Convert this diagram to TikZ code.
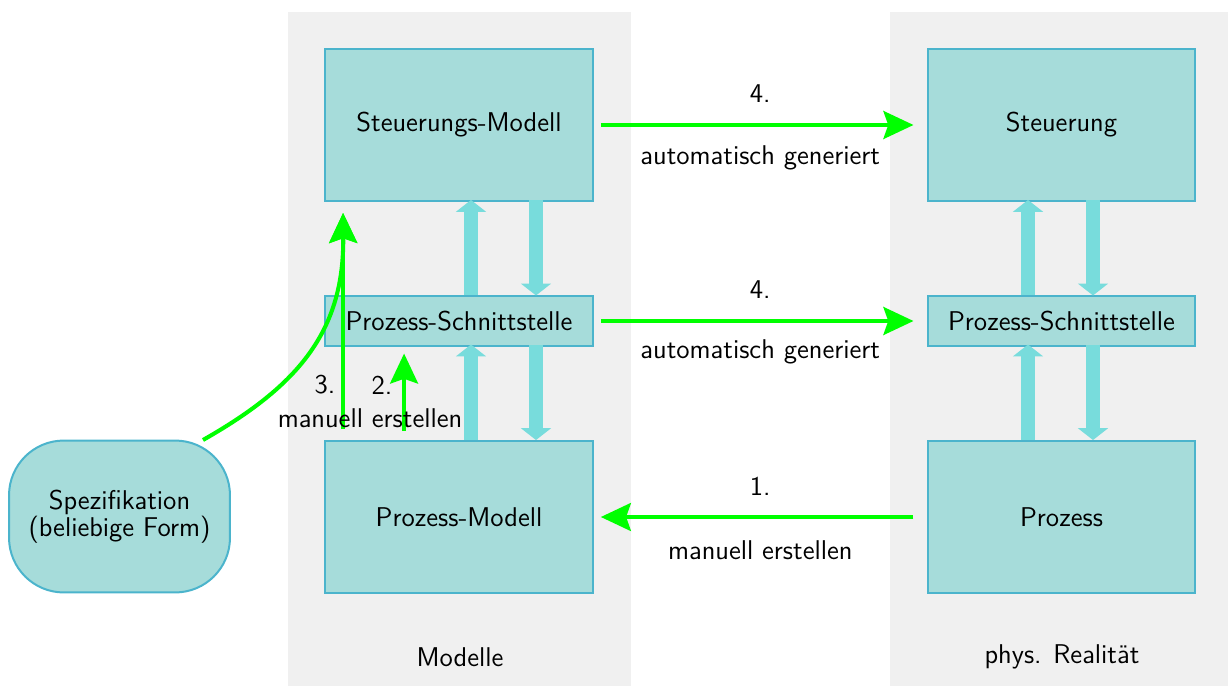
\documentclass[tikz,border=0pt]{standalone}
\usetikzlibrary{arrows.meta,calc}
\definecolor{panel}{HTML}{F0F0F0}
\definecolor{boxfill}{HTML}{A6DCDA}
\definecolor{boxline}{HTML}{4BB4CC}
\definecolor{flow}{HTML}{78DCDC}
\definecolor{green}{HTML}{00FF00}
\newcommand{\labelfont}{\sffamily\fontsize{11.4}{13.7}\selectfont}
\tikzset{
  block/.style={draw=boxline, fill=boxfill, line width=0.84pt, inner sep=0pt,
    minimum width=112.5pt, minimum height=63.8pt, font=\labelfont},
  iface/.style={block, minimum height=20.6pt},
  spec/.style={block, minimum width=92.8pt, rounded corners=23pt, align=center},
  flowarrow/.style={draw=flow, line width=5.5pt, -{Triangle[length=5pt,width=12.5pt]}},
  genarrow/.style={draw=green, line width=1.7pt, -{Stealth[length=12.6pt,width=11.7pt,inset=2pt]}},
  lbl/.style={font=\labelfont, inner sep=1pt},
}
\begin{document}
\begin{tikzpicture}[x=0.42pt, y=-0.42pt]
  \useasboundingbox (0,0) rectangle (1228,686);
  % two columns
  \fill[panel] (288,12) rectangle (631,686);
  \fill[panel] (890,12) rectangle (1228,686);
  \node[lbl] (lm) at (460,657) {Modelle};
  \node[lbl] (lr) at (1062,657) {phys. Realität};

  % model side
  \node[block] (sm) at (459,125) {Steuerungs-Modell};
  \node[iface] (ps1) at (459,321) {Prozess-Schnittstelle};
  \node[block] (pm) at (459,517) {Prozess-Modell};
  % real side
  \node[block] (st) at (1061.5,125) {Steuerung};
  \node[iface] (ps2) at (1061.5,321) {Prozess-Schnittstelle};
  \node[block] (pr) at (1061.5,517) {Prozess};
  % specification
  \node[spec] (sp) at (119.5,516.5) {Spezifikation\\[-2.5pt](beliebige Form)};

  % signal flow between levels
  \draw[flowarrow] ($(ps1.north)+(12,0)$) -- ($(sm.south)+(12,-2)$);
  \draw[flowarrow] ($(sm.south)+(77,-2)$) -- ($(ps1.north)+(77,0)$);
  \draw[flowarrow] ($(pm.north)+(12,0)$) -- ($(ps1.south)+(12,-2)$);
  \draw[flowarrow] ($(ps1.south)+(77,-2)$) -- ($(pm.north)+(77,0)$);
  \draw[flowarrow] ($(ps2.north)+(-33.5,0)$) -- ($(st.south)+(-33.5,-2)$);
  \draw[flowarrow] ($(st.south)+(31.5,-2)$) -- ($(ps2.north)+(31.5,0)$);
  \draw[flowarrow] ($(pr.north)+(-33.5,0)$) -- ($(ps2.south)+(-33.5,-2)$);
  \draw[flowarrow] ($(ps2.south)+(31.5,-2)$) -- ($(pr.north)+(31.5,0)$);

  % generation steps
  \draw[genarrow, shorten <=2.9pt, shorten >=5.5pt] (sm.east) -- (st.west)
    node[lbl, midway, yshift=13pt] (l4a) {4.}
    node[lbl, midway, yshift=-14pt] (l4b) {automatisch generiert};
  \draw[genarrow, shorten <=2.9pt, shorten >=5.5pt] (ps1.east) -- (ps2.west)
    node[lbl, midway, yshift=13pt] (l4c) {4.}
    node[lbl, midway, yshift=-13pt] (l4d) {automatisch generiert};
  \draw[genarrow, shorten <=5.5pt, shorten >=2.9pt] (pr.west) -- (pm.east)
    node[lbl, midway, yshift=13pt] (l1a) {1.}
    node[lbl, midway, yshift=-14pt] (l1b) {manuell erstellen};

  % manual steps on the model side
  \coordinate (tgt) at ($(sm.south west)+(19,11)$);
  \coordinate (s3) at ($(pm.north west)+(19,-11)$);
  \coordinate (s2) at ($(pm.north west)+(80,-9)$);
  \coordinate (t2) at ($(ps1.south west)+(80,7)$);
  \coordinate (sp0) at (203,440);
  \draw[genarrow] (s3) -- (tgt);
  \draw[genarrow] (s2) -- (t2);
  \draw[genarrow] (sp0) .. controls (300,385) and (344,330) .. (tgt);
  \node[lbl] (l3) at (325,385) {3.};
  \node[lbl] (l2) at (382,385) {2.};
  \node[lbl] (l23) at (370,418) {manuell erstellen};
\end{tikzpicture}
\end{document}
